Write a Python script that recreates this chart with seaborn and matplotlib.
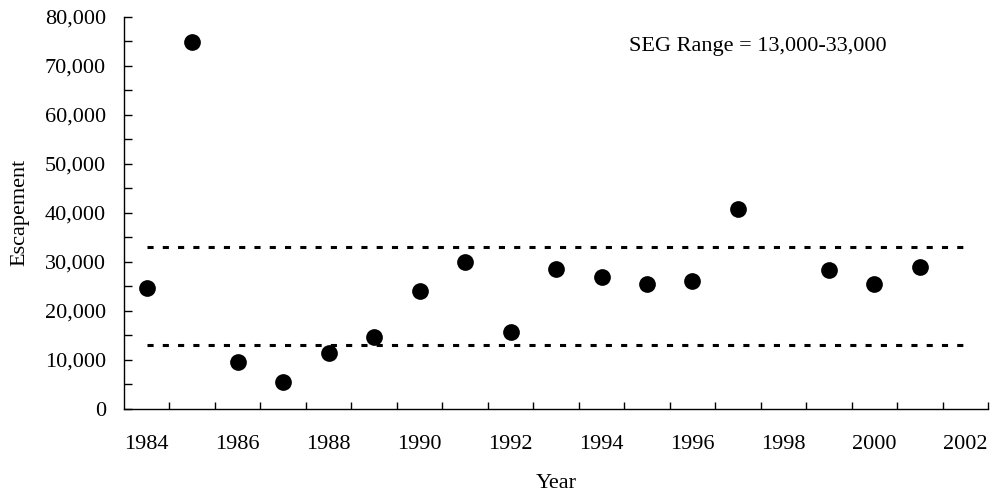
import matplotlib
matplotlib.use("Agg")
import matplotlib.pyplot as plt
from matplotlib.ticker import FuncFormatter, MultipleLocator, FixedLocator
import seaborn as sns
import pandas as pd

# Annual escapement counts (no count in 1998)
years = [1984, 1985, 1986, 1987, 1988, 1989, 1990, 1991, 1992,
         1993, 1994, 1995, 1996, 1997, 1999, 2000, 2001]
escapement = [24600, 74800, 9400, 5500, 11400, 14500, 23900, 30000, 15700,
              28400, 26900, 25400, 26000, 40700, 28200, 25400, 28900]

# Sustainable escapement goal bounds
seg_low = 13000
seg_high = 33000

first_year, last_year = 1984, 2002
year_labels = list(range(first_year, last_year + 1, 2))

sns.set_theme(style="white")
plt.rcParams["font.family"] = ["Liberation Serif", "DejaVu Serif"]
plt.rcParams["font.size"] = 16

df = pd.DataFrame({"Year": years, "Escapement": escapement})

fig = plt.figure(figsize=(9.93, 4.98), dpi=100)
ax = fig.add_axes([0.1249, 0.1797, 0.8701, 0.7868])

sns.scatterplot(data=df, x="Year", y="Escapement", ax=ax, color="black",
                s=145, linewidth=0, zorder=3, legend=False)

for bound in (seg_low, seg_high):
    ax.plot([first_year, last_year], [bound, bound], color="black",
            linewidth=2.2, linestyle=(0, (2.0, 3.0)), dash_capstyle="butt",
            zorder=2)

ax.text(0.733, 0.925, f"SEG Range = {seg_low:,}-{seg_high:,}",
        transform=ax.transAxes, ha="center", va="center", fontsize=16,
        color="black")

ax.set_xlim(first_year - 0.5, last_year + 0.5)
ax.set_ylim(0, 80000)

# Category-style x axis: labels at every second year, ticks between years
ax.xaxis.set_major_locator(FixedLocator(year_labels))
ax.xaxis.set_minor_locator(FixedLocator([y + 0.5 for y in range(first_year, last_year + 1)]))
ax.tick_params(axis="x", which="major", length=0, pad=19, labelsize=16,
               colors="black")
ax.tick_params(axis="x", which="minor", direction="in", length=5, width=1,
               color="black", bottom=True)

ax.yaxis.set_major_locator(MultipleLocator(10000))
ax.yaxis.set_minor_locator(MultipleLocator(5000))
ax.yaxis.set_major_formatter(FuncFormatter(lambda v, _: f"{int(v):,}"))
ax.tick_params(axis="y", which="both", direction="in", length=6, width=1,
               color="black", left=True, pad=13, labelsize=16,
               labelcolor="black")

for side in ("top", "right"):
    ax.spines[side].set_visible(False)
for side in ("left", "bottom"):
    ax.spines[side].set_color("black")
    ax.spines[side].set_linewidth(1)

ax.set_xlabel("Year", fontsize=16, color="black")
ax.set_ylabel("Escapement", fontsize=16, color="black")
ax.xaxis.set_label_coords(0.5, -0.168)
ax.yaxis.set_label_coords(-0.109, 0.5)

fig.savefig("out.png", dpi=100, facecolor="white")
